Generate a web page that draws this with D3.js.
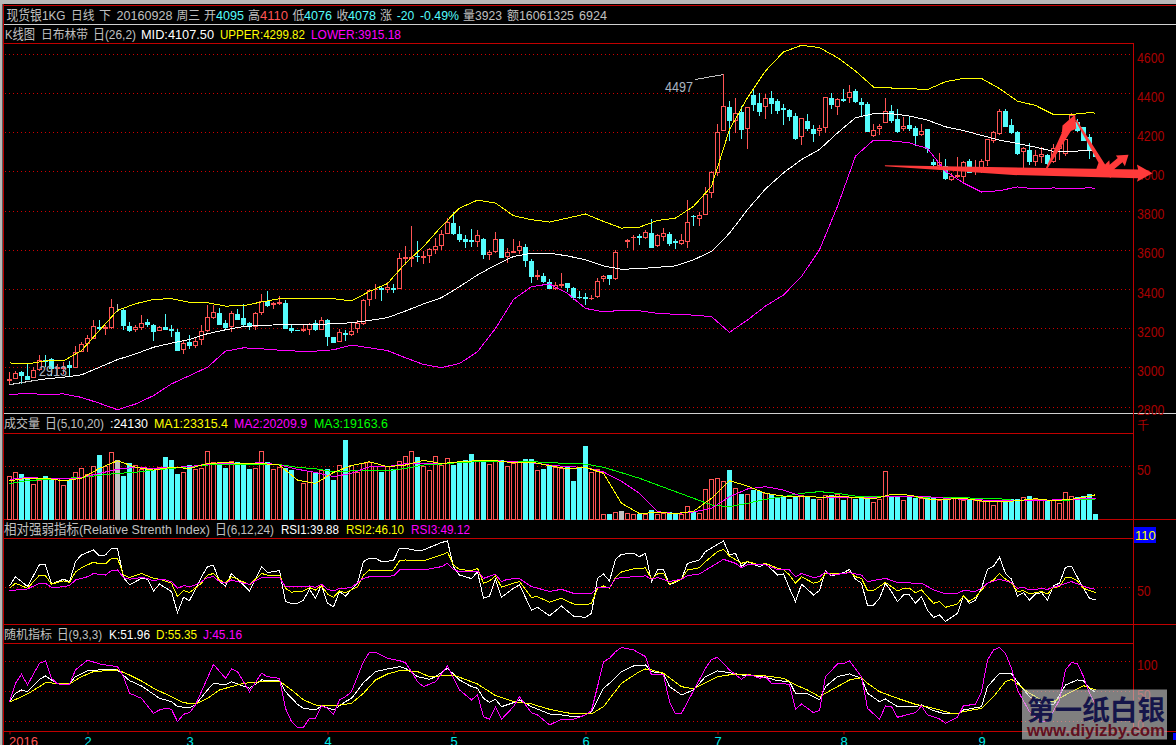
<!DOCTYPE html>
<html><head><meta charset="utf-8">
<script src="https://cdn.jsdelivr.net/npm/d3@7/dist/d3.min.js"></script>
<style>
html,body{margin:0;padding:0;background:#000;overflow:hidden}
svg{display:block}
text{font-family:"Liberation Sans","Noto Sans CJK SC",sans-serif;font-size:13.5px}
</style></head><body>
<svg id="c" width="1176" height="745"></svg>
<script>
// ---------- candles: day 0..181 ----------
const opens=[2935,2943,2976,2954,2952,2989,3037,3041,2996,2996,3012,3003,3085,3123,3152,3208,3199,3208,3310,3293,3213,3196,3208,3233,3215,3191,3204,3194,3180,3092,3129,3112,3143,3191,3259,3276,3225,3213,3273,3250,3225,3211,3280,3336,3322,3326,3327,3199,3190,3192,3198,3225,3198,3242,3153,3136,3175,3169,3199,3225,3349,3399,3406,3399,3406,3406,3558,3558,3570,3563,3573,3605,3622,3687,3739,3682,3653,3648,3645,3657,3576,3594,3653,3568,3588,3599,3616,3544,3466,3467,3435,3404,3418,3428,3406,3361,3360,3353,3363,3455,3469,3455,3641,3645,3663,3669,3665,3687,3624,3670,3682,3645,3636,3646,3774,3762,3783,3896,3998,4213,4327,4264,4302,4220,4390,4349,4332,4373,4360,4322,4312,4281,4179,4256,4216,4210,4228,4373,4336,4368,4377,4409,4353,4343,4186,4220,4250,4307,4268,4220,4235,4220,4191,4215,4046,4032,4029,3960,3974,3974,4051,4000,4012,4059,4160,4196,4307,4235,4199,4102,4107,4054,4080,4083,4054,4117,4094,4268,4250,4225,4174,4095];
const highs=[2977,2986,2983,3020,3006,3063,3063,3051,3020,3029,3037,3109,3131,3165,3245,3242,3216,3350,3324,3302,3233,3221,3268,3250,3225,3211,3273,3221,3199,3136,3169,3157,3216,3319,3319,3307,3242,3290,3302,3324,3233,3285,3378,3390,3336,3365,3344,3225,3190,3216,3228,3245,3259,3250,3157,3199,3191,3228,3242,3353,3404,3430,3416,3438,3430,3585,3623,3722,3648,3594,3611,3662,3704,3764,3793,3725,3679,3708,3701,3662,3602,3694,3657,3611,3657,3645,3633,3554,3500,3483,3452,3440,3483,3435,3411,3394,3380,3372,3457,3472,3474,3602,3641,3657,3679,3684,3704,3759,3684,3713,3691,3658,3684,3858,3781,3795,3923,4006,4242,4497,4360,4379,4336,4327,4424,4404,4396,4411,4370,4344,4319,4298,4276,4293,4237,4237,4384,4404,4379,4424,4442,4424,4379,4358,4242,4242,4375,4339,4319,4281,4281,4233,4242,4216,4066,4094,4066,3995,4076,4054,4066,4059,4066,4169,4208,4322,4322,4271,4208,4128,4148,4111,4128,4093,4140,4148,4179,4298,4268,4230,4191,4110];
const lows=[2913,2943,2918,2942,2948,2986,3003,2960,2960,2969,2952,3000,3080,3080,3148,3191,3165,3199,3285,3191,3182,3182,3194,3208,3136,3187,3191,3157,3085,3071,3097,3102,3114,3182,3250,3216,3191,3182,3242,3208,3191,3191,3268,3310,3302,3319,3199,3177,3188,3182,3165,3187,3191,3111,3128,3131,3136,3160,3177,3221,3314,3353,3339,3382,3382,3402,3525,3517,3542,3530,3537,3582,3602,3684,3679,3640,3611,3619,3616,3554,3551,3588,3559,3537,3585,3582,3517,3431,3448,3431,3401,3397,3406,3389,3346,3349,3320,3346,3355,3440,3423,3448,3641,3611,3602,3628,3657,3612,3619,3645,3622,3607,3628,3611,3725,3725,3780,3867,3981,4208,4160,4199,4170,4119,4310,4285,4268,4293,4293,4239,4259,4165,4136,4208,4151,4182,4196,4319,4288,4356,4349,4353,4285,4204,4179,4186,4247,4247,4199,4208,4208,4131,4182,4094,4015,4020,3960,3952,3969,3940,3995,3986,3995,4029,4148,4189,4228,4191,4088,4020,4037,4032,4046,4037,4046,4063,4083,4242,4203,4157,4068,4076];
const closes=[2938,2969,2960,2942,2986,3037,3030,2995,3000,3003,3003,3080,3119,3148,3213,3199,3208,3307,3310,3218,3191,3208,3228,3221,3187,3208,3196,3189,3088,3126,3114,3136,3187,3259,3281,3221,3204,3276,3247,3220,3211,3276,3336,3319,3327,3332,3203,3192,3188,3196,3221,3194,3239,3162,3131,3179,3169,3187,3225,3344,3395,3402,3402,3409,3402,3559,3561,3561,3566,3566,3602,3619,3682,3742,3684,3653,3643,3645,3674,3576,3588,3657,3565,3588,3595,3621,3547,3466,3472,3440,3404,3419,3426,3409,3360,3358,3353,3355,3442,3466,3455,3590,3641,3648,3667,3665,3691,3616,3675,3686,3633,3641,3650,3742,3771,3778,3887,3995,4199,4332,4264,4300,4216,4326,4344,4309,4373,4349,4315,4319,4285,4170,4271,4222,4198,4220,4379,4344,4368,4365,4404,4361,4344,4208,4213,4233,4307,4262,4208,4230,4222,4187,4208,4117,4037,4046,3967,3974,3984,4046,3998,4005,4051,4164,4199,4307,4233,4203,4092,4117,4054,4083,4087,4042,4117,4131,4165,4288,4211,4162,4111,4078];
const volumes=[41,44.6,43,39,33.5,37,41,36.7,39,32,36.7,44.6,48.4,42.4,50.6,61,50,63.6,55.7,41,53,51.6,47,48.4,46,49,59,56,43,44.6,51.6,47.5,48.4,64.6,53.8,53,48.4,54.7,53.8,51.6,47,48.4,64.6,54,47.8,49.4,48.4,46.8,0,34,45.6,43.7,46.8,47.5,37.3,51.6,75.3,51.6,44.6,53,53.8,50.6,44.3,50,47.8,54.7,60,64.6,59,50.6,46,60,51.6,58,51.6,54,55.7,62,56,56,52,56,55.7,50.6,53,53.8,57,57,46.8,47.8,51.6,49.4,48.4,50,36.4,49,69.6,44.6,47.8,4.7,5,6.6,7,5.7,5,5,5,7.9,5,5.4,6.3,5,5,12.3,6.3,5.7,28.5,38,39,36,46,29.4,24,24,27,26,24.7,24,20.6,21.2,18.4,20.9,23,22,18.4,19,23,23,24,17.4,21,18.4,20,19,16,19,45.6,20.6,21.5,18,21.5,20,20,20,20,17.4,19,20,20.3,17.4,17.7,17.4,16.5,17.4,12.7,17.7,15.8,19,19,21,22,19,17.4,16.8,17.4,15.2,25.6,21.5,21,22,24,4.1];
const monthDays=[0,13,30,53,74,96,118,139,162];
const monthLabels=["2016","2","3","4","5","6","7","8","9"];

// ---------- curves read every third day ----------
const sampleDays=[0,3,6,9,12,15,18,21,24,27,30,33,36,39,42,45,48,51,54,57,60,63,66,69,72,75,78,81,84,87,90,93,96,99,102,105,108,111,114,117,120,123,126,129,132,135,138,141,144,147,150,153,156,159,162,165,168,171,174,177,180,181];
const upper=[3025,3020,3035,3035,3088,3191,3293,3327,3349,3353,3334,3332,3315,3317,3336,3353,3353,3353,3353,3341,3390,3430,3534,3619,3722,3815,3856,3841,3776,3756,3744,3764,3785,3747,3713,3718,3752,3764,3824,3926,4216,4379,4515,4612,4646,4634,4583,4515,4433,4428,4425,4420,4460,4477,4477,4425,4361,4339,4293,4293,4302,4299.82];
const mid=[2914,2930,2943,2952,2964,3003,3042,3071,3105,3126,3145,3174,3194,3211,3216,3220,3221,3221,3225,3230,3242,3256,3290,3326,3358,3414,3474,3524,3568,3585,3585,3571,3551,3520,3503,3506,3513,3520,3551,3594,3687,3807,3913,3995,4063,4114,4199,4276,4297,4297,4285,4264,4230,4211,4186,4162,4145,4126,4105,4105,4109,4107.5];
const lower=[2863,2870,2863,2867,2849,2819,2786,2815,2858,2918,2960,3003,3085,3102,3097,3090,3085,3085,3092,3116,3102,3088,3051,3017,3001,3022,3082,3201,3349,3414,3428,3380,3303,3286,3293,3291,3278,3273,3269,3261,3181,3244,3315,3372,3466,3602,3824,4080,4162,4158,4148,4119,4003,3943,3897,3904,3923,3913,3918,3913,3919,3915.18];
const volMa1=[36.7,39,39,36.7,39,48.4,55.7,49.4,46.8,49.4,48.4,53,54,53,53,51.6,37.3,34,44.6,51,54.7,50,51.6,56,53,54.7,55.7,55.7,53.8,54.4,51,48,49.4,43.7,15.2,5.4,6.6,5.4,7.6,20,36.7,31.6,24.7,22,22,21,21.5,21,19.3,23.7,23,19.3,19,20,17.4,16.5,17.7,19.6,17.7,19,22,23.3];
const volMa2=[38,39.6,39,38.3,39.6,43.7,47.5,49.4,48.4,49.4,50,52.5,53,53,53.8,51.6,47.5,44.6,40.5,43.7,50,50,53,53,53,54.7,55.7,55.7,54.7,53.8,51.6,50,49.4,45,36,24.7,7.3,5.4,7,10.4,21.5,28.8,31,27.8,22,21,21,21,20.6,22,21.5,21.5,20,19,18.4,17.7,17.7,17.7,18.4,19,19.6,20.2];
const volMa3=[34,36.7,38,39,39.6,41.8,43.7,44.6,46.8,48.4,50,51.6,52,52,52.5,52,49.4,48,45.3,46,46.2,46.2,48.4,51.6,52.5,54,54.7,54.7,55.4,54.7,54,53,52.5,49.4,44.3,39,32.6,26.3,20,13.6,12,15.2,19,21.5,24.7,26.3,24.7,22,21.5,21.5,21.5,20.6,20.9,20.6,19.6,19.6,17.7,17.7,17.7,18.4,19,19.16];

// ---------- oscillators: days and values at each turning point ----------
const rsi1Days=[0,1,3,5,6,7,9,10,11,12,14,15,16,17,18,19,20,22,23,24,25,27,28,29,30,32,33,34,35,36,37,38,40,42,43,45,46,47,48,49,50,51,52,53,54,55,56,58,59,60,61,62,64,65,66,68,69,72,73,74,75,77,78,79,80,81,82,84,85,87,88,90,92,94,96,97,98,99,100,101,102,104,105,106,107,108,109,110,112,113,115,116,119,120,121,122,123,125,126,128,129,130,131,132,133,134,135,136,137,139,140,141,142,143,144,145,146,147,148,149,150,151,152,153,154,155,156,158,159,160,161,162,163,164,165,166,167,168,169,170,171,172,173,174,175,176,177,178,179,180,181];
const rsi1=[51.6,63,51,78,77.5,54,60,57,81.6,89.8,96,88.5,89.8,98,98,62,53,61,60,45.5,54,44.7,18.8,37.7,33.6,63,75.4,77,57,51.6,67,60,45.5,75.4,68,70.5,32.4,30,30.3,34.4,47.5,36.5,53,30.3,26,44.7,39.3,55,81.6,85.7,85.7,81.6,82.8,98,98,95,96,105,107,75.4,65,60.7,69,36.5,39.3,60,37.7,48.8,53,22,25.4,15,27,14.7,13,18,61,66.4,57.8,84.4,90.6,91.8,87.7,91.8,57,71.3,72,53,60,79.5,83.6,93.9,107,89.8,91.8,75.4,81.6,75.4,79.5,65,66.4,48.8,32.4,53.7,47.5,40.6,46,70.5,64,68,72,60,55,27.9,28,36.5,55,44.7,32.4,40.6,40.6,30.3,38.5,22,13,16,8,18,39.3,30.3,34.4,48.8,72,76,87,67,60,39.3,43.4,34.4,41.8,43.4,34.4,52,55,74.6,76,62,48.8,36.5,34.4];
const rsi2Days=[0,1,3,5,6,7,9,10,11,12,14,15,16,17,18,19,20,22,24,25,27,28,29,30,32,33,34,35,36,37,38,40,42,43,45,46,47,49,50,51,52,53,54,55,56,58,59,60,62,64,65,66,69,72,73,74,75,77,78,79,80,81,82,84,85,87,88,90,92,94,96,97,98,99,100,101,102,104,105,106,107,108,109,110,112,113,115,116,118,119,120,122,123,125,126,128,129,130,131,132,134,135,136,139,140,141,142,143,144,146,148,149,150,151,152,154,155,156,158,159,160,161,163,164,165,166,167,168,169,170,171,172,173,174,175,176,177,178,179,180,181];
const rsi2=[48.8,55,48.8,65,64,54,57.8,56,69,74,81,78.7,78.7,85.7,85.7,65,62,67,61,60,55,38.5,46,43.4,55,65,67,59,55,63,60,53,67,65,65,48.8,44,45.5,49.6,46.7,52,41.8,37.7,45.5,43.4,50.8,65,71.3,70.5,71.3,82.8,83.6,82.4,89.8,93,77.5,72,70.5,73.4,55,57.8,64,50,55,57,37.7,38.5,31.6,36.5,29.5,28.3,30.3,48.8,51.6,48.8,62,69,72.6,72.6,74,60,66.4,67,54,60,71.3,74,81.6,93.9,96.7,88.5,79.5,81.6,77.5,79.5,73.4,72,65,55,63,55,57,67,66.4,69,63,61,46,46,56,45.5,48.8,48.8,43.4,46.7,30.3,32.4,25.4,29.5,39.3,33,37.7,55,59,67,60,55.7,44.7,46,41.8,43.4,44.7,41.8,49.6,50.8,62,62,58,48.8,46,43.4];
const rsi3Days=[0,3,5,6,7,8,10,11,13,14,16,17,18,19,20,22,23,24,25,26,27,28,29,30,31,32,33,34,35,36,37,38,39,40,42,45,46,49,50,51,52,53,54,55,56,57,59,60,64,65,66,69,72,73,74,75,78,79,81,82,83,85,87,90,92,94,97,98,100,101,104,106,107,108,110,112,113,115,117,119,121,122,123,126,128,130,131,132,134,135,136,137,140,142,143,146,148,151,152,154,156,158,159,161,162,163,165,167,168,169,170,172,173,174,177,180,181];
const rsi3=[45.9,48,55,55,50,50,52,59,63,67,65,70.5,71.3,62,60,62,61,57.8,60,59,57,48.8,52,50.8,53,57,62,63,57,55,59,57,55,53.7,62,62,50.8,50.8,51.6,50,53.7,47.5,45.5,48.8,48.8,50,61,63,64,71.3,71.3,71.3,75.4,79.5,72,69,70,61,66,57,60,60.7,50.8,45,47.5,42.6,42.6,49.6,49.6,61,63,64,60,62,57,60,64.4,66.4,75.4,84.4,79.5,74,77.5,77.5,72,71.3,63,67,62,63,69,65,68,65,57,61,56,55,55,47,42,42.6,46,45,48.8,55,60,55.7,48.8,50,46.7,48.4,47.5,50,57,48.8,47.5];
const kDays=[0,1,2,3,5,6,7,8,10,11,13,15,18,20,22,25,27,28,30,31,33,34,36,37,40,42,45,46,48,49,51,52,54,56,57,59,61,63,65,66,68,70,71,73,75,77,78,79,80,81,82,84,85,87,90,92,94,95,96,97,98,99,100,102,104,106,107,109,110,112,114,116,118,120,122,124,126,128,130,131,133,135,136,138,140,142,143,145,146,148,151,152,154,156,158,159,162,163,165,167,168,170,172,174,176,178,179,180,181];
const kVals=[32.8,46.7,52.2,49.4,70,75.6,68.9,63.3,63.3,74.4,84.4,85.6,85.6,67.8,58.9,38.3,32.8,24.4,22.8,27.2,52.2,63.3,60.6,66,55,68.9,67.8,49.4,28.3,21.7,18.9,25.6,18.9,32.8,38.3,64.4,82.8,87.2,91,88.3,74.4,70,74.4,88.3,68.9,57.8,55,38.3,31.7,36.7,24.4,31,35.6,24.4,12.2,10.6,7.8,7.8,10.6,16.1,35.6,55,63.3,82.8,92.2,93.9,82.8,80,57.8,43.9,52.2,74.4,84,81.1,77.2,76,73.3,67.8,66,46.7,45.6,35.6,57.8,74.4,78.9,71.7,46.7,32.8,37.2,24.4,24.4,27.2,17.8,12.2,12.2,18.9,24.4,57.8,80,78.9,66,41,27.2,27.2,60.6,68.9,67.2,55,48];
const dDays=[0,2,3,5,6,8,10,12,14,18,20,22,24,27,29,31,33,35,37,39,42,45,47,49,51,54,57,59,61,63,65,66,68,70,74,78,81,84,87,90,94,97,99,102,105,106,107,109,112,114,118,121,126,129,131,133,135,136,138,140,142,143,145,148,151,154,157,158,159,162,164,166,167,170,172,174,176,179,181];
const dVals=[31.7,41,45.6,57.8,64.4,63.3,62.2,74.4,82.8,85.6,77.2,67.2,55,41,31,28.9,38.3,52.2,57.8,63.3,66,67.2,52.2,35.6,27.2,25.6,30,46.7,68.9,78.9,84.4,84.4,82.8,74.4,77.2,62.2,42.8,32.8,28.9,20,12.2,12.2,24.4,63.3,82.8,87.2,85.6,80,57.8,53.9,74.4,78.9,75.6,71.7,60.6,52.2,41,46.7,57.8,68.9,72.8,63.3,49.4,38.3,28.3,21.7,13.3,13.3,16.1,21.7,41,66,70,46.7,35.6,32.8,43.9,59.4,52.2];
const jDays=[0,1,2,3,5,6,7,8,10,11,13,15,18,19,20,22,24,25,26,27,28,29,30,31,34,36,37,38,40,42,43,45,46,47,48,49,50,51,52,53,54,55,56,57,59,60,61,63,65,66,67,68,69,71,72,73,75,77,78,79,80,81,82,84,85,87,88,90,92,94,96,97,98,99,100,101,102,104,106,107,109,110,111,112,116,117,118,120,122,123,124,125,126,127,129,130,131,132,134,135,136,138,139,140,142,143,145,146,147,148,151,152,153,155,156,158,159,161,162,163,164,165,166,167,168,170,172,173,175,176,177,178,179,180,181];
const jVals=[32.8,63.3,78.3,60.6,96.7,100.6,71.7,62.2,61.7,85.6,102,95.6,91,74.4,46.7,38.3,13.3,18.9,21.7,20,-0.6,11.7,14.4,27.2,95,71.7,87.2,82.8,49.4,80,74.4,71.7,21.7,-0.6,-10,-10,5,5,25.6,21.7,11.7,35.6,41,49.4,99.4,115,115,105,101,97.8,82.8,66,57.8,66,78.9,92.2,52.2,35.6,43.9,7.8,3.3,23.3,3.3,24.4,41,14.4,10.6,-6,3.3,3.3,10.6,17.8,57.8,99.4,105,116,123,119,107.8,77.2,77.2,32.8,12.2,13.3,88.3,103,106.7,85.6,70,77.2,75.6,71.7,74.4,63.3,63.3,60.6,20,28.9,14.4,17.8,74.4,95.6,95.6,100.6,74.4,21.7,3.3,25.6,24.4,6.7,14.4,25.6,10.6,3.9,-3.3,6.7,26,28.3,49.4,102,119,123,113,88,52,16,-0.6,-0.6,35.6,85.6,98,95.6,74.4,46.7,27];

// ---------- hand-drawn arrows, as [day, price] ----------
const arrowFlat=[[145.9,4034],[188.1,4012],[187.9,4037],[190.5,3993],[187.9,3949],[188.1,3967],[167.3,3984],[145.9,4029]];
const arrowUp=[[172.7,4017],[175.4,4199],[175.5,4237],[177.6,4293],[177.8,4220],[176.9,4208],[173,4017]];
const arrowDown=[[177.6,4264],[181.5,4046],[181.1,4012],[183.6,3969],[183.3,4059],[182.6,4037],[177.9,4264]];
const arrowSmall=[[182.9,4025],[184.7,4071],[184.4,4083],[186.5,4087],[185.9,4029],[185.5,4049],[183.5,3998]];

const RED="#ff5454",CYAN="#54fcfc",AXIS="#a80000",FRAME="#c00000",GRID="#d00000",GREY="#c0c0c0";
const svg=d3.select("#c");
const W=1176,RIGHT=1133.5;
const x=d3.scaleLinear().domain([0,181]).range([9.5,1095.5]);
const yPrice=d3.scaleLinear().domain([2800,4600]).range([407,54.3]);
const yVol=d3.scaleLinear().domain([0,50]).range([519.3,466.7]);
const yRsi=d3.scaleLinear().domain([50,110]).range([587.3,538.5]);
const yKdj=d3.scaleLinear().domain([0,100]).range([721.3,661.3]);
const crisp=v=>Math.round(v-0.5)+0.5;

svg.append("rect").attr("width",W).attr("height",745).attr("fill","#000");
// window chrome
svg.append("rect").attr("width",W).attr("height",4).attr("fill","#b8b8b8");
svg.append("rect").attr("width",2.5).attr("height",745).attr("fill","#b8b8b8");
function hline(y,x1,x2,c){svg.append("line").attr("x1",x1).attr("x2",x2).attr("y1",y).attr("y2",y).attr("stroke",c).attr("shape-rendering","crispEdges");}
function vline(xx,y1,y2,c){svg.append("line").attr("x1",xx).attr("x2",xx).attr("y1",y1).attr("y2",y2).attr("stroke",c).attr("shape-rendering","crispEdges");}
vline(3.5,4,745,FRAME);
hline(5.5,3,W,FRAME);
hline(24.5,4,W,"#d0d0d0");
hline(43.5,4,RIGHT,FRAME);
hline(413.5,4,W,"#d0d0d0");
hline(433.5,4,RIGHT,FRAME);
hline(519.5,4,W,FRAME);
hline(538.5,4,RIGHT,FRAME);
hline(624.5,4,W,FRAME);
hline(643.5,4,RIGHT,FRAME);
hline(731.5,4,W,FRAME);
vline(RIGHT,43,731,FRAME);

// grid + axis labels
function panelAxis(scale,ticks){
  ticks.forEach(t=>{
    svg.append("line").attr("x1",5).attr("x2",RIGHT).attr("y1",crisp(scale(t))).attr("y2",crisp(scale(t)))
      .attr("stroke",GRID).attr("stroke-dasharray","1 3").attr("shape-rendering","crispEdges");
  });
  const g=svg.append("g").attr("transform",`translate(${RIGHT},0)`)
    .call(d3.axisRight(scale).tickValues(ticks).tickSize(0).tickPadding(3.5).tickFormat(d3.format("d")));
  g.select(".domain").remove();
  g.selectAll("text").attr("fill",AXIS).attr("dy","0.55em").style("font-size","14px").attr("font-family",'"Liberation Sans"')
    .attr("textLength",d=>String(d).length*6.85).attr("lengthAdjust","spacingAndGlyphs");
}
panelAxis(yPrice,[2800,3000,3200,3400,3600,3800,4000,4200,4400,4600]);
panelAxis(yVol,[50]);
panelAxis(yRsi,[50]);
panelAxis(yKdj,[0,50,100]);

const days=d3.range(opens.length);
const colorOf=i=>closes[i]>opens[i]?RED:closes[i]<opens[i]?CYAN:GREY;
// candles
const gC=svg.append("g").attr("shape-rendering","crispEdges");
gC.selectAll(".w").data(days).join("line")
  .attr("x1",i=>x(i)).attr("x2",i=>x(i)).attr("y1",i=>yPrice(highs[i])).attr("y2",i=>yPrice(lows[i]))
  .attr("stroke",colorOf);
gC.selectAll(".b").data(days).join("rect")
  .attr("x",i=>x(i)-2).attr("width",4)
  .attr("y",i=>Math.min(yPrice(opens[i]),yPrice(closes[i])))
  .attr("height",i=>Math.abs(yPrice(opens[i])-yPrice(closes[i])))
  .attr("fill",i=>closes[i]>opens[i]?"#000":colorOf(i))
  .attr("stroke",colorOf);
// volume
const gV=svg.append("g").attr("shape-rendering","crispEdges");
gV.selectAll("rect").data(days.filter(i=>volumes[i]>0)).join("rect")
  .attr("x",i=>x(i)-2).attr("width",4)
  .attr("y",i=>yVol(volumes[i])).attr("height",i=>yVol(0)-yVol(volumes[i]))
  .attr("fill",i=>closes[i]>opens[i]?"#000":colorOf(i))
  .attr("stroke",colorOf);

function curve(ds,vs,scale,color,w){
  const line=d3.line().x(d=>x(d[0])).y(d=>scale(d[1]));
  svg.append("path").attr("d",line(ds.map((d,i)=>[d,vs[i]])))
    .attr("fill","none").attr("stroke",color).attr("stroke-width",w||1).attr("shape-rendering","crispEdges");
}
curve(sampleDays,upper,yPrice,"#ffff00");
curve(sampleDays,mid,yPrice,"#ffffff");
curve(sampleDays,lower,yPrice,"#ff00ff");
curve(sampleDays,volMa3,yVol,"#00ff00");
curve(sampleDays,volMa2,yVol,"#ff00ff");
curve(sampleDays,volMa1,yVol,"#ffff00");
curve(rsi1Days,rsi1,yRsi,"#ffffff");
curve(rsi2Days,rsi2,yRsi,"#ffff00");
curve(rsi3Days,rsi3,yRsi,"#ff00ff");
curve(kDays,kVals,yKdj,"#ffffff");
curve(dDays,dVals,yKdj,"#ffff00");
curve(jDays,jVals,yKdj,"#ff00ff");

// x axis
const ax=svg.append("g").attr("transform","translate(0,731.5)")
  .call(d3.axisBottom(x).tickValues(monthDays).tickSize(3).tickPadding(2).tickFormat((d,i)=>monthLabels[i]));
ax.select(".domain").remove();
ax.selectAll("line").attr("stroke",FRAME);
ax.selectAll("text").attr("fill",(d,i)=>i==0?RED:"#00e8e8").style("font-size","13px").attr("font-family",'"Liberation Sans"');
ax.selectAll("text").filter((d,i)=>i==0).attr("text-anchor","start").attr("x",-1);

// text: [x, text, colour, width]
function label(parts,y){
  parts.forEach(p=>{
    const cjk=/^[\u4e00-\u9fff]+$/.test(p[1]);
    svg.append("text").attr("x",p[0]).attr("y",y).attr("fill",p[2])
      .attr("textLength",p[3]).attr("lengthAdjust","spacingAndGlyphs")
      .style("font-size",cjk?"12px":"13.5px").text(p[1]);
  });
}
label([[6.5,"现货银1KG",GREY,59],[71,"日线",GREY,23.5],[99,"下",GREY,12],[116.5,"20160928",GREY,56],[176.5,"周三",GREY,23.5],[204,"开",GREY,12],[216,"4095",CYAN,28],[248,"高",GREY,12],[260,"4110",RED,28],[292.5,"低",GREY,12],[304,"4076",CYAN,28],[336.5,"收",GREY,12],[348,"4078",CYAN,28],[380,"涨",GREY,12],[396.7,"-20",CYAN,17.5],[420,"-0.49%",CYAN,39],[463,"量",GREY,12],[475,"3923",GREY,27],[507,"额",GREY,12],[519,"16061325",GREY,55],[579,"6924",GREY,28]],20);
label([[5,"K线图",GREY,30],[41,"日布林带",GREY,47],[93,"日(26,2)",GREY,43],[141,"MID:4107.50","#ffffff",73],[220,"UPPER:4299.82","#ffff00",85],[311,"LOWER:3915.18","#ff00ff",90]],39);
label([[4,"成交量",GREY,36],[45,"日(5,10,20)",GREY,59],[110,":24130","#ffffff",38],[154,"MA1:23315.4","#ffff00",74],[234,"MA2:20209.9","#ff00ff",73],[314,"MA3:19163.6","#00ff00",74]],428);
label([[4,"相对强弱指标(Relative Strenth Index)",GREY,206],[215,"日(6,12,24)",GREY,59],[281,"RSI1:39.88","#ffffff",58],[346,"RSI2:46.10","#ffff00",58],[411,"RSI3:49.12","#ff00ff",59]],534);
label([[4,"随机指标",GREY,48],[57,"日(9,3,3)",GREY,45],[109,"K:51.96","#ffffff",41],[156,"D:55.35","#ffff00",41],[203,"J:45.16","#ff00ff",39]],638.5);

// unit + scale badge
svg.append("text").attr("x",1137).attr("y",430).attr("fill",AXIS).style("font-size","12px").text("千");
svg.append("rect").attr("x",1134).attr("y",527).attr("width",22).attr("height",16).attr("fill","#0000ff");
svg.append("text").attr("x",1135).attr("y",540).attr("fill","#ffff00").style("font-size","13px").text("110");

// peak / trough callouts, anchored on their candles
const callouts=[[119,4497,-28,5,665,92,"4497"],[0,2913,29,-5,39,376,"2913"]];
callouts.forEach(c=>{
  svg.append("line").attr("x1",x(c[0])).attr("y1",yPrice(c[1])).attr("x2",x(c[0])+c[2]).attr("y2",yPrice(c[1])+c[3])
    .attr("stroke","#c0c0c0").attr("shape-rendering","crispEdges");
  svg.append("text").attr("x",c[4]).attr("y",c[5]).attr("fill","#a8b4c0").attr("textLength",28).attr("lengthAdjust","spacingAndGlyphs").style("font-size","14px").text(c[6]);
});

// arrows
[arrowFlat,arrowUp,arrowDown,arrowSmall].forEach(a=>{
  svg.append("polygon").attr("points",a.map(p=>[x(p[0]),yPrice(p[1])].join(",")).join(" ")).attr("fill","#ff3a3a");
});

// watermark
svg.append("rect").attr("x",1022).attr("y",689.5).attr("width",145).attr("height",50).attr("fill","rgba(205,205,205,0.62)");
svg.append("text").attr("x",1027).attr("y",720).attr("fill","#15154a").attr("textLength",138).attr("lengthAdjust","spacingAndGlyphs")
  .style("font-size","27px").style("font-weight","700").text("第一纸白银");
svg.append("text").attr("x",1027).attr("y",736).attr("fill","#601020").attr("textLength",138).attr("lengthAdjust","spacingAndGlyphs")
  .style("font-size","16px").style("font-weight","700").text("www.diyizby.com");
svg.append("rect").attr("x",1173).attr("y",733).attr("width",3).attr("height",7).attr("fill","#0000ff");
</script>
</body></html>
